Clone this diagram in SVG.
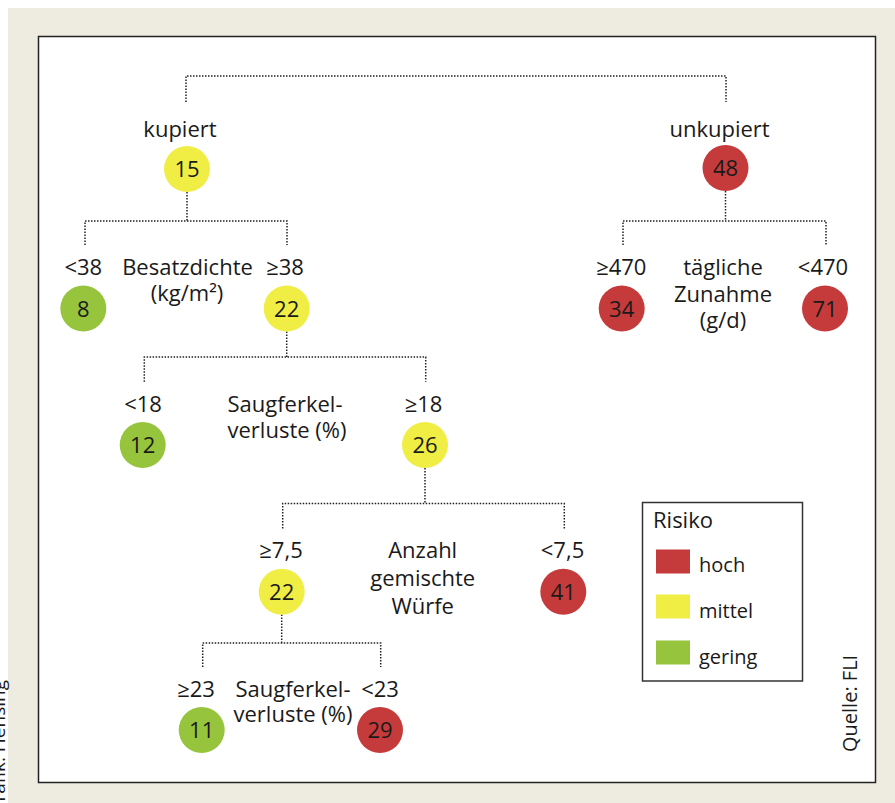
<svg xmlns="http://www.w3.org/2000/svg" width="895" height="803" viewBox="0 0 895 803">
<style>
text{font-family:"Open Sans","Noto Sans","Liberation Sans",sans-serif;fill:#1a1a1a;font-size:22px}
.m{text-anchor:middle}
.lg{font-size:20px}
.c{fill:none;stroke:#222;stroke-width:1.5;stroke-dasharray:1.5 1.5}
.r{fill:#c53a3a}.y{fill:#f0ee45}.g{fill:#96c43d}
</style>
<rect x="0" y="0" width="895" height="803" fill="#ffffff"/>
<rect x="8" y="8" width="887" height="795" fill="#eeebe0"/>
<rect x="38.5" y="36.5" width="837" height="746" fill="#ffffff" stroke="#222" stroke-width="1.5"/>
<text x="5" y="680" transform="rotate(-90 5 680)" style="font-size:19px;text-anchor:end">Grafik: Hensing</text>

<g id="connectors">
<path class="c" d="M186,102 V76 H726 V102"/>
<path class="c" d="M187,192 V221 M85,245 V221 H287 V245"/>
<path class="c" d="M725.5,191 V221 M623,245 V221 H826 V245"/>
<path class="c" d="M286.7,331.5 V357 M144.3,381.7 V357 H425.7 V381.7"/>
<path class="c" d="M425,468 V503.5 M282.7,528.5 V503.5 H564.3 V528.5"/>
<path class="c" d="M281.7,614.5 V643 M202.7,667 V643 H380.7 V667"/>
</g>

<g id="n-root-left">
<text class="m" x="180" y="137">kupiert</text>
<circle class="y" cx="187" cy="169" r="23"/>
<text class="m" x="187" y="177">15</text>
</g>
<g id="n-root-right">
<text class="m" x="719.6" y="137">unkupiert</text>
<circle class="r" cx="725.5" cy="168" r="23"/>
<text class="m" x="725.5" y="176">48</text>
</g>

<g id="label-besatz">
<text class="m" x="187.5" y="275">Besatzdichte</text>
<text class="m" x="187" y="301">(kg/m²)</text>
</g>
<g id="n-8">
<text class="m" x="83.3" y="275">&lt;38</text>
<circle class="g" cx="83.3" cy="308.5" r="23"/>
<text class="m" x="83.3" y="316.5">8</text>
</g>
<g id="n-22a">
<text class="m" x="285" y="275">≥38</text>
<circle class="y" cx="286.7" cy="308.5" r="23"/>
<text class="m" x="286.7" y="316.5">22</text>
</g>

<g id="label-zunahme">
<text class="m" x="723" y="275">tägliche</text>
<text class="m" x="723" y="302">Zunahme</text>
<text class="m" x="723" y="328">(g/d)</text>
</g>
<g id="n-34">
<text class="m" x="621.3" y="275">≥470</text>
<circle class="r" cx="621.7" cy="308.5" r="23"/>
<text class="m" x="621.7" y="316.5">34</text>
</g>
<g id="n-71">
<text class="m" x="823" y="275">&lt;470</text>
<circle class="r" cx="825" cy="308.5" r="23"/>
<text class="m" x="825" y="316.5">71</text>
</g>

<g id="label-saug1">
<text class="m" x="285" y="411.5">Saugferkel-</text>
<text class="m" x="287" y="438">verluste (%)</text>
</g>
<g id="n-12">
<text class="m" x="143" y="411.5">&lt;18</text>
<circle class="g" cx="142.7" cy="445" r="23"/>
<text class="m" x="142.7" y="453">12</text>
</g>
<g id="n-26">
<text class="m" x="423.5" y="411.5">≥18</text>
<circle class="y" cx="425" cy="445" r="23"/>
<text class="m" x="425" y="453">26</text>
</g>

<g id="label-wuerfe">
<text class="m" x="422.7" y="558">Anzahl</text>
<text class="m" x="422.7" y="586">gemischte</text>
<text class="m" x="422.7" y="614">Würfe</text>
</g>
<g id="n-22b">
<text class="m" x="281" y="558">≥7,5</text>
<circle class="y" cx="281.7" cy="591.7" r="23"/>
<text class="m" x="281.7" y="599.7">22</text>
</g>
<g id="n-41">
<text class="m" x="562.5" y="558">&lt;7,5</text>
<circle class="r" cx="563.3" cy="591.7" r="23"/>
<text class="m" x="563.3" y="599.7">41</text>
</g>

<g id="label-saug2">
<text class="m" x="293" y="697">Saugferkel-</text>
<text class="m" x="293" y="722">verluste (%)</text>
</g>
<g id="n-11">
<text class="m" x="196" y="697">≥23</text>
<circle class="g" cx="201.7" cy="730" r="23"/>
<text class="m" x="201.7" y="738">11</text>
</g>
<g id="n-29">
<text class="m" x="380" y="697">&lt;23</text>
<circle class="r" cx="380" cy="730" r="23"/>
<text class="m" x="380" y="738">29</text>
</g>

<g id="legend">
<rect x="642.5" y="502.5" width="160" height="178.5" fill="#ffffff" stroke="#333" stroke-width="1.5"/>
<text x="653" y="528">Risiko</text>
<rect class="r" x="656" y="549.5" width="34" height="24"/>
<text class="lg" x="699" y="572">hoch</text>
<rect class="y" x="656" y="594.5" width="34" height="24"/>
<text class="lg" x="699" y="618">mittel</text>
<rect class="g" x="656" y="640.5" width="34" height="24"/>
<text class="lg" x="699" y="664">gering</text>
</g>
<text class="lg" x="857" y="752" transform="rotate(-90 857 752)">Quelle: FLI</text>
</svg>
